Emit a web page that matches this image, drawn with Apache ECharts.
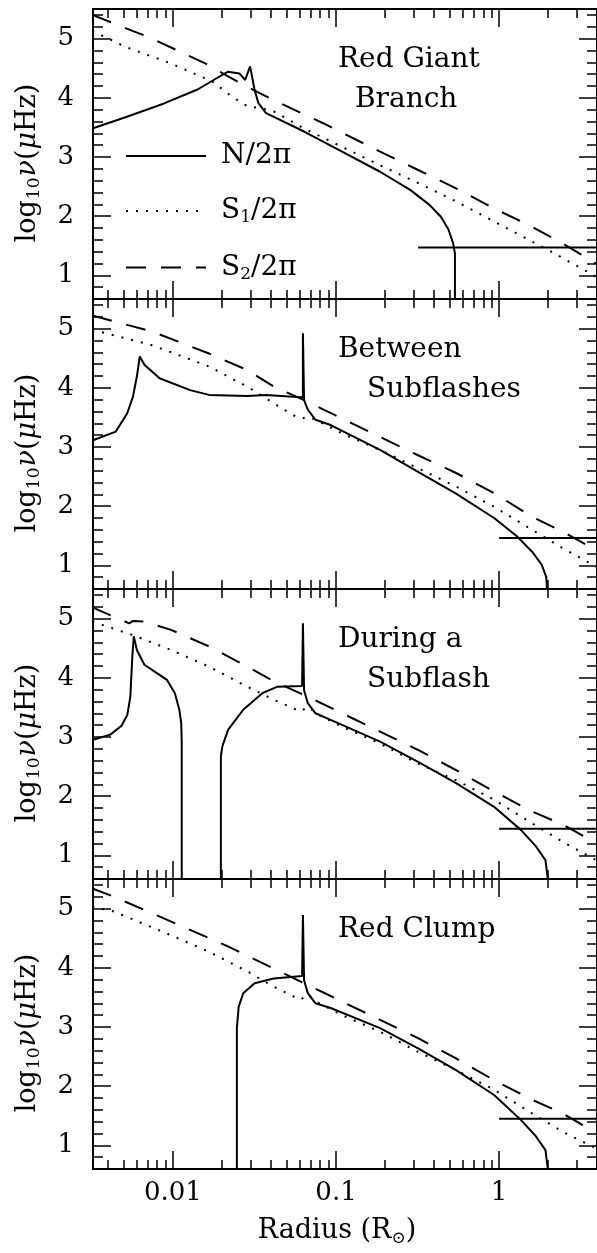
<!DOCTYPE html>
<html>
<head>
<meta charset="utf-8">
<script src="https://cdn.jsdelivr.net/npm/echarts@6/dist/echarts.min.js"></script>
<style>
html,body{margin:0;padding:0;background:#fff;}
#chart{width:597px;height:1253px;}
</style>
</head>
<body>
<div id="chart"></div>
<script>
// x data are log10(Radius / R_sun); y data are log10(nu / microHz)
const xTickValues = [-2, -1, 0];
const xTickLabels = ['0.01', '0.1', '1'];
const yTickValues = [1, 2, 3, 4, 5];
const yTickLabels = ['1', '2', '3', '4', '5'];
const panelTitles = [['Red Giant', 'Branch'], ['Between', 'Subflashes'], ['During a', 'Subflash'], ['Red Clump']];
const legendNames = ['N', 'S1', 'S2'];

// ---- Panel 1: Red Giant Branch ----
const p1_N_logR = [-2.494, -2.291, -2.058, -1.849, -1.732, -1.662, -1.592, -1.557, -1.527, -1.499, -1.476, -1.429, -1.196, -0.963, -0.730, -0.543, -0.427, -0.357, -0.310, -0.282, -0.271, -0.271];
const p1_N_val  = [3.48, 3.67, 3.90, 4.14, 4.33, 4.44, 4.41, 4.30, 4.53, 4.13, 3.91, 3.74, 3.43, 3.09, 2.75, 2.44, 2.19, 1.99, 1.77, 1.54, 1.37, 0.5];
const p1_S1_logR = [-2.494, -2.291, -2.012, -1.755, -1.639, -1.545, -1.452, -1.382, -1.196, -0.963, -0.730, -0.497, -0.264, -0.031, 0.202, 0.319, 0.6];
const p1_S1_val  = [5.13, 4.86, 4.58, 4.27, 4.02, 3.86, 3.82, 3.77, 3.48, 3.17, 2.86, 2.56, 2.25, 1.91, 1.57, 1.40, 0.97];
const p1_S2_logR = [-2.494, -2.128, -1.802, -1.569, -1.382, -1.079, -0.730, -0.497, -0.264, -0.031, 0.202, 0.389, 0.6];
const p1_S2_val  = [5.40, 5.00, 4.58, 4.22, 3.96, 3.57, 3.09, 2.78, 2.47, 2.13, 1.82, 1.54, 1.19];
const p1_H_logR = [-0.497, 0.6];
const p1_H_val  = [1.47, 1.47];

// ---- Panel 2: Between Subflashes ----
const p2_N_logR = [-2.494, -2.350, -2.280, -2.245, -2.221, -2.203, -2.175, -2.082, -1.895, -1.779, -1.545, -1.429, -1.219, -1.203, -1.203, -1.196, -1.173, -1.126, -1.033, -0.730, -0.497, -0.264, -0.031, 0.109, 0.202, 0.261, 0.289, 0.296];
const p2_N_val  = [3.11, 3.26, 3.57, 3.85, 4.19, 4.53, 4.39, 4.16, 3.96, 3.88, 3.86, 3.88, 3.84, 3.84, 4.92, 3.79, 3.63, 3.46, 3.37, 2.95, 2.58, 2.21, 1.80, 1.49, 1.23, 1.01, 0.80, 0.5];
const p2_S1_logR = [-2.494, -2.128, -1.779, -1.545, -1.382, -1.266, -1.208, -1.173, -1.126, -0.963, -0.730, -0.497, -0.264, -0.031, 0.202, 0.389, 0.6];
const p2_S1_val  = [4.98, 4.72, 4.36, 4.02, 3.74, 3.54, 3.48, 3.51, 3.46, 3.23, 2.95, 2.64, 2.33, 1.99, 1.60, 1.29, 0.97];
const p2_S2_logR = [-2.494, -2.128, -1.779, -1.545, -1.382, -1.196, -0.963, -0.730, -0.497, -0.264, -0.031, 0.202, 0.389, 0.6];
const p2_S2_val  = [5.22, 4.95, 4.58, 4.30, 4.02, 3.79, 3.48, 3.17, 2.86, 2.56, 2.22, 1.82, 1.57, 1.25];
const p2_H_logR = [0, 0.6];
const p2_H_val  = [1.46, 1.46];

// ---- Panel 3: During a Subflash (null = gap in N) ----
const p3_N_logR = [-2.494, -2.384, -2.315, -2.280, -2.261, -2.249, -2.240, -2.221, -2.175, -2.082, -2.035, -1.988, -1.960, -1.949, -1.946, -1.946, null,
  -1.706, -1.706, -1.697, -1.662, -1.569, -1.452, -1.359, -1.208, -1.203, -1.203, -1.196, -1.173, -1.126, -1.033, -0.730, -0.497, -0.264, -0.031, 0.133, 0.226, 0.284, 0.303];
const p3_N_val  = [2.95, 3.04, 3.19, 3.37, 3.68, 4.36, 4.70, 4.47, 4.22, 4.05, 3.96, 3.74, 3.45, 3.23, 2.90, 0.5, null,
  0.5, 2.67, 2.84, 3.12, 3.46, 3.74, 3.85, 3.86, 3.86, 4.92, 3.79, 3.57, 3.40, 3.29, 2.92, 2.58, 2.22, 1.82, 1.43, 1.15, 0.92, 0.5];
const p3_S1_logR = [-2.494, -2.245, -2.012, -1.779, -1.545, -1.382, -1.219, -1.173, -1.103, -0.963, -0.730, -0.497, -0.264, -0.031, 0.202, 0.389, 0.6];
const p3_S1_val  = [4.95, 4.72, 4.47, 4.19, 3.85, 3.63, 3.43, 3.51, 3.37, 3.17, 2.89, 2.55, 2.27, 1.94, 1.54, 1.23, 0.91];
const p3_S2_logR = [-2.494, -2.361, -2.268, -2.245, -2.175, -2.012, -1.779, -1.545, -1.382, -1.196, -0.963, -0.730, -0.497, -0.264, -0.031, 0.202, 0.389, 0.6];
const p3_S2_val  = [5.19, 5.03, 4.92, 4.96, 4.95, 4.81, 4.53, 4.19, 3.94, 3.71, 3.40, 3.09, 2.78, 2.44, 2.08, 1.74, 1.52, 1.20];
const p3_H_logR = [0, 0.6];
const p3_H_val  = [1.45, 1.45];

// ---- Panel 4: Red Clump ----
const p4_N_logR = [-1.608, -1.608, -1.597, -1.569, -1.499, -1.382, -1.208, -1.203, -1.203, -1.196, -1.173, -1.126, -1.033, -0.730, -0.497, -0.264, -0.031, 0.133, 0.226, 0.284, 0.303];
const p4_N_val  = [0.5, 2.98, 3.34, 3.57, 3.74, 3.82, 3.86, 3.86, 4.89, 3.79, 3.57, 3.40, 3.32, 2.98, 2.64, 2.27, 1.85, 1.43, 1.15, 0.92, 0.5];
const p4_S1_logR = [-2.494, -2.361, -2.012, -1.779, -1.545, -1.382, -1.219, -1.173, -1.103, -0.963, -0.730, -0.497, -0.264, -0.031, 0.202, 0.389, 0.6];
const p4_S1_val  = [5.03, 4.95, 4.55, 4.27, 3.94, 3.68, 3.46, 3.54, 3.40, 3.20, 2.92, 2.58, 2.27, 1.94, 1.54, 1.23, 0.94];
const p4_S2_logR = [-2.494, -2.361, -2.128, -1.895, -1.662, -1.429, -1.196, -0.963, -0.730, -0.497, -0.264, -0.031, 0.202, 0.389, 0.6];
const p4_S2_val  = [5.34, 5.20, 4.92, 4.64, 4.36, 4.05, 3.74, 3.43, 3.12, 2.81, 2.47, 2.10, 1.77, 1.54, 1.20];
const p4_H_logR = [0, 0.6];
const p4_H_val  = [1.45, 1.45];

const panels = [
  {N: [p1_N_logR, p1_N_val], S1: [p1_S1_logR, p1_S1_val], S2: [p1_S2_logR, p1_S2_val], H: [p1_H_logR, p1_H_val]},
  {N: [p2_N_logR, p2_N_val], S1: [p2_S1_logR, p2_S1_val], S2: [p2_S2_logR, p2_S2_val], H: [p2_H_logR, p2_H_val]},
  {N: [p3_N_logR, p3_N_val], S1: [p3_S1_logR, p3_S1_val], S2: [p3_S2_logR, p3_S2_val], H: [p3_H_logR, p3_H_val]},
  {N: [p4_N_logR, p4_N_val], S1: [p4_S1_logR, p4_S1_val], S2: [p4_S2_logR, p4_S2_val], H: [p4_H_logR, p4_H_val]}
];

// ---- layout / style ----
const X_MIN = -2.49, X_MAX = 0.6, Y_MIN = 0.6, Y_MAX = 5.5;
const LEFT = 93, TOP0 = 9, PH = 290, PW = 505;
const FONT = 'DejaVu Serif';
const DOT = [2, 8], DASH = [20, 15];

const xMinor = [];
[-3, -2, -1, 0].forEach(d => { for (let k = 2; k <= 9; k++) { const v = d + Math.log10(k); if (v > X_MIN && v < X_MAX) xMinor.push(v); } });
const yMinor = [];
for (let j = 8; j < 55; j += 2) { if (j % 10 !== 0) yMinor.push(j / 10); }

function labelFor(values, labels) {
  return v => { const i = values.findIndex(t => Math.abs(t - v) < 1e-6); return i >= 0 ? labels[i] : ''; };
}

const grid = [], xAxis = [], yAxis = [], series = [], graphic = [];

function xAx(i, pos, major, showLine, showLabel) {
  return {
    type: 'value', gridIndex: i, position: pos, min: X_MIN, max: X_MAX,
    axisLine: {show: showLine, onZero: false, lineStyle: {color: '#000', width: 2}},
    axisTick: {show: true, inside: true, length: major ? 18 : 9, customValues: major ? xTickValues : xMinor, lineStyle: {color: '#000', width: 1.5}},
    axisLabel: {show: showLabel, customValues: xTickValues, formatter: labelFor(xTickValues, xTickLabels),
      color: '#000', fontFamily: FONT, fontSize: 26, margin: 11},
    splitLine: {show: false}
  };
}
function yAx(i, pos, major, showLine, showLabel) {
  return {
    type: 'value', gridIndex: i, position: pos, min: Y_MIN, max: Y_MAX,
    axisLine: {show: showLine, onZero: false, lineStyle: {color: '#000', width: 2}},
    axisTick: {show: true, inside: true, length: major ? 18 : 10, customValues: major ? yTickValues : yMinor, lineStyle: {color: '#000', width: 1.5}},
    axisLabel: {show: showLabel, customValues: yTickValues, formatter: labelFor(yTickValues, yTickLabels),
      color: '#000', fontFamily: FONT, fontSize: 26, margin: 19},
    splitLine: {show: false}
  };
}

function toData(xs, ys) {
  return xs.map((x, k) => (x === null || ys[k] === null) ? '-' : [x, ys[k]]);
}

const styles = {
  N: {type: 'solid', width: 2},
  S1: {type: DOT, width: 2},
  S2: {type: DASH, width: 2},
  H: {type: 'solid', width: 2}
};

panels.forEach((p, i) => {
  const top = TOP0 + PH * i;
  grid.push({left: LEFT, top: top, width: PW, height: PH, containLabel: false});
  xAxis.push(xAx(i, 'bottom', true, true, i === 3));
  xAxis.push(xAx(i, 'bottom', false, false, false));
  xAxis.push(xAx(i, 'top', true, true, false));
  xAxis.push(xAx(i, 'top', false, false, false));
  yAxis.push(yAx(i, 'left', true, true, true));
  yAxis.push(yAx(i, 'left', false, false, false));
  yAxis.push(yAx(i, 'right', true, true, false));
  yAxis.push(yAx(i, 'right', false, false, false));
  ['N', 'S1', 'S2', 'H'].forEach(key => {
    series.push({
      type: 'line', name: key === 'H' ? 'nu30' : key,
      xAxisIndex: 4 * i, yAxisIndex: 4 * i,
      data: toData(p[key][0], p[key][1]),
      symbol: 'none', showSymbol: false, clip: true, silent: true,
      connectNulls: false,
      itemStyle: {color: '#000'},
      lineStyle: Object.assign({color: '#000'}, styles[key])
    });
  });
  // y-axis title
  graphic.push({
    type: 'text', x: 28, y: top + 154, rotation: Math.PI / 2, silent: true,
    style: {
      text: 'log{s|10}{i|ν}({i|μ}Hz)', fill: '#000', fontFamily: FONT, fontSize: 27,
      align: 'center', verticalAlign: 'middle',
      rich: {
        s: {fontFamily: FONT, fontSize: 17, padding: [13, 1, 0, 1], fill: '#000'},
        i: {fontFamily: FONT, fontSize: 27, fontStyle: 'italic', fill: '#000'}
      }
    }
  });
});

// panel titles
const titlePos = [
  [[338, 60], [355, 100]],
  [[338, 350], [367, 390]],
  [[338, 640], [367, 680]],
  [[338, 930]]
];
panelTitles.forEach((lines, i) => {
  lines.forEach((t, j) => {
    graphic.push({
      type: 'text', x: titlePos[i][j][0], y: titlePos[i][j][1], silent: true,
      style: {text: t, fill: '#000', fontFamily: FONT, fontSize: 28, align: 'left', verticalAlign: 'middle'}
    });
  });
});

// x-axis title
graphic.push({
  type: 'text', x: 337, y: 1231, silent: true,
  style: {
    text: 'Radius (R{s|⊙})', fill: '#000', fontFamily: FONT, fontSize: 27,
    align: 'center', verticalAlign: 'middle',
    rich: {s: {fontFamily: FONT, fontSize: 17, padding: [15, 0, 0, 0], fill: '#000'}}
  }
});

const legendText = {N: '{t|N/2π}', S1: '{t|S}{s|1}{t|/2π}', S2: '{t|S}{s|2}{t|/2π}'};

const option = {
  animation: false,
  backgroundColor: '#fff',
  grid, xAxis, yAxis, series, graphic,
  legend: {
    show: true, orient: 'vertical', left: 125, top: 142, padding: 0,
    itemWidth: 80, itemHeight: 26, itemGap: 27,
    selectedMode: false,
    data: [
      {name: 'N', lineStyle: {type: 'solid', width: 2, color: '#000'}},
      {name: 'S1', lineStyle: {type: DOT, width: 2, color: '#000'}},
      {name: 'S2', lineStyle: {type: DASH, width: 2, color: '#000'}}
    ],
    itemStyle: {color: 'rgba(0,0,0,0)', borderColor: 'rgba(0,0,0,0)', borderWidth: 0},
    formatter: name => legendText[name],
    textStyle: {
      color: '#000', fontFamily: FONT, fontSize: 28, padding: [0, 0, 0, 10],
      rich: {
        t: {fontFamily: FONT, fontSize: 28, color: '#000'},
        s: {fontFamily: FONT, fontSize: 17, color: '#000', padding: [14, 0, 0, 0]}
      }
    }
  }
};

const chart = echarts.init(document.getElementById('chart'), null, {renderer: 'canvas'});
chart.setOption(option);
</script>
</body>
</html>
